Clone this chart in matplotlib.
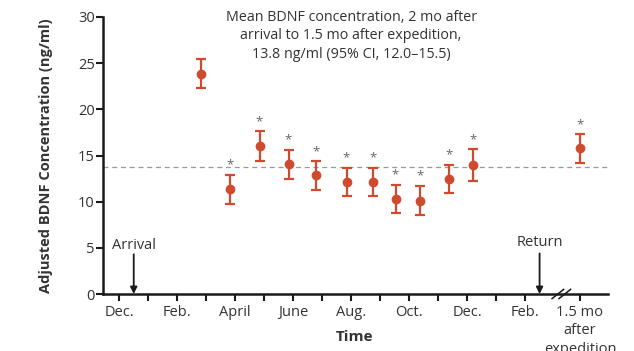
import matplotlib
matplotlib.use("Agg")
import matplotlib.pyplot as plt

# Data (time in months from December of arrival year)
months = [2.83, 3.83, 4.84, 5.84, 6.8, 7.84, 8.76, 9.53, 10.37, 11.38, 12.2, 15.89]
means = [23.8, 11.4, 16.0, 14.05, 12.9, 12.1, 12.1, 10.26, 10.1, 12.46, 13.94, 15.8]
upper = [25.4, 12.9, 17.6, 15.6, 14.4, 13.7, 13.7, 11.85, 11.7, 14.0, 15.7, 17.3]
lower = [22.3, 9.8, 14.4, 12.5, 11.3, 10.6, 10.6, 8.8, 8.6, 10.9, 12.2, 14.2]
significant = [False] + [True] * 11
reference_mean = 13.8

tick_pos = [0, 2, 4, 6, 8, 10, 12, 14, 15.89]
tick_labels = ["Dec.", "Feb.", "April", "June", "Aug.", "Oct.", "Dec.", "Feb.",
               "1.5 mo\nafter\nexpedition"]
minor_pos = [1, 3, 5, 7, 9, 11, 13]
arrival_x, return_x, break_x = 0.5, 14.5, 15.25

plt.rcParams['font.family'] = ['Open Sans', 'DejaVu Sans']
red = "#CF4A2E"
txt = "#333333"

fig = plt.figure(figsize=(6.34, 3.51), dpi=100)
ax = fig.add_axes([103/634, 1-294/351, (608-103)/634, (294-17)/351])

yerr = [[m - l for m, l in zip(means, lower)], [u - m for m, u in zip(means, upper)]]
ax.errorbar(months, means, yerr=yerr, fmt='o', color=red, ecolor=red,
            markersize=6, elinewidth=1.6, capsize=3.5, capthick=1.6, zorder=3)
for x, u, s in zip(months, upper, significant):
    if s:
        ax.text(x, u + 0.35, "*", ha='center', va='bottom', fontsize=9.5, color='#666666')

ax.axhline(reference_mean, color='#999999', linestyle=(0, (4, 3)), linewidth=0.9, zorder=1)

ax.set_xlim(-0.56, 16.86)
ax.set_ylim(0, 30)
ax.set_yticks([0, 5, 10, 15, 20, 25, 30])
ax.set_xticks(tick_pos)
ax.set_xticklabels(tick_labels, linespacing=1.3)
ax.set_xticks(minor_pos, minor=True)
for s in ['top', 'right']:
    ax.spines[s].set_visible(False)
for s in ['left', 'bottom']:
    ax.spines[s].set_linewidth(1.8)
    ax.spines[s].set_color('#1a1a1a')
ax.tick_params(axis='both', which='both', length=5, width=1.5, color='#1a1a1a',
               labelsize=10.5, labelcolor=txt)
ax.tick_params(axis='x', which='both', pad=3)
ax.tick_params(axis='y', pad=1)

ax.set_ylabel("Adjusted BDNF Concentration (ng/ml)", fontsize=10.5, fontweight='bold',
              color=txt)
ax.yaxis.set_label_coords((53 - 103) / 505, 0.5)
fig.text(355/634, 1 - 337/351, "Time", ha='center', va='center', fontsize=11,
         fontweight='bold', color=txt)

# arrows
ax.annotate("", xy=(arrival_x, 0), xytext=(arrival_x, 4.3),
            arrowprops=dict(arrowstyle='-|>', color='#1a1a1a', lw=1.3, mutation_scale=10,
                            shrinkA=0, shrinkB=0))
ax.text(arrival_x, 5.3, "Arrival", ha='center', va='center', fontsize=10.5, color=txt)
ax.annotate("", xy=(return_x, 0), xytext=(return_x, 4.4),
            arrowprops=dict(arrowstyle='-|>', color='#1a1a1a', lw=1.3, mutation_scale=10,
                            shrinkA=0, shrinkB=0))
ax.text(return_x, 5.6, "Return", ha='center', va='center', fontsize=10.5, color=txt)

# axis break marks
for dx in (-0.12, 0.12):
    ax.plot([break_x + dx - 0.2, break_x + dx + 0.2], [-0.5, 0.5], color='#1a1a1a',
            lw=1.1, clip_on=False, zorder=5)

ax.text(8.0, 27.95, "Mean BDNF concentration, 2 mo after\narrival to 1.5 mo after expedition,\n13.8 ng/ml (95% CI, 12.0\u201315.5)",
        ha='center', va='center', fontsize=10.3, color=txt, linespacing=1.28)

fig.savefig("out.png", dpi=100)
